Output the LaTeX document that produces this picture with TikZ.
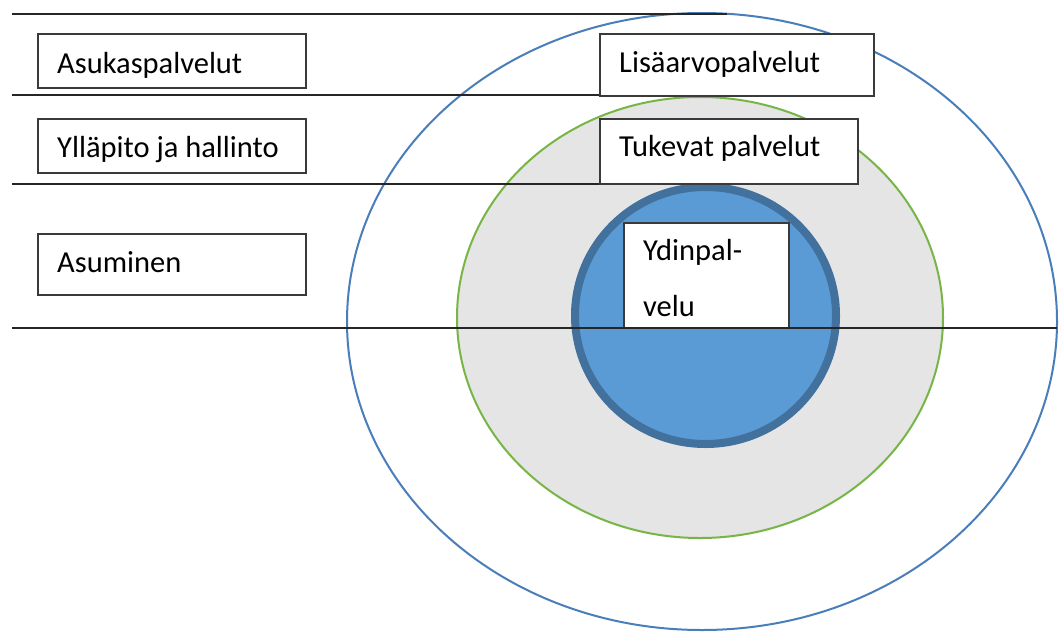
\documentclass[tikz,border=0pt]{standalone}
\usepackage{fontspec}
\setmainfont{Carlito}
\definecolor{outerblue}{HTML}{4A7EBB}
\definecolor{ringgreen}{HTML}{77B546}
\definecolor{ringgray}{HTML}{E5E5E5}
\definecolor{corefill}{HTML}{5B9BD5}
\definecolor{coreedge}{HTML}{41719C}
\definecolor{boxedge}{HTML}{3A3A3A}
\tikzset{
  boxnode/.style={draw=boxedge, line width=2pt, fill=white, rectangle, anchor=north west, inner sep=0pt},
  lbl/.style={anchor=base west, inner sep=0pt, font=\fontsize{30.5}{37}\selectfont, text=black},
  sepline/.style={line width=2.4pt, draw=black!85},
}
\begin{document}
\begin{tikzpicture}[x=1pt,y=-1pt]
\useasboundingbox[fill=white] (0,0) rectangle (1059,632);
% outer ellipse
\draw[outerblue, line width=2pt] (702,321.5) ellipse [x radius=355pt, y radius=308.5pt];
% green ring
\draw[ringgreen, fill=ringgray, line width=2pt] (700,317.5) ellipse [x radius=243pt, y radius=220.5pt];
% core
\draw[coreedge, fill=corefill, line width=8pt] (705.5,315.5) ellipse [x radius=130.5pt, y radius=128.5pt];
% separator lines
\coordinate (l1a) at (12,14);  \coordinate (l1b) at (727,14);
\coordinate (l2a) at (12,95);  \coordinate (l2b) at (600,95);
\coordinate (l3a) at (12,184); \coordinate (l3b) at (705,184);
\coordinate (l4a) at (12,328); \coordinate (l4b) at (1057,328);
\draw[sepline] (l1a) -- (l1b);
\draw[sepline] (l2a) -- (l2b);
\draw[sepline] (l3a) -- (l3b);
% boxes
\node[boxnode, minimum width=268pt, minimum height=54pt] (b1) at (37,33) {};
\node[boxnode, minimum width=268pt, minimum height=54pt] (b2) at (37,118) {};
\node[boxnode, minimum width=268pt, minimum height=61pt] (b3) at (37,233) {};
\node[boxnode, minimum width=274pt, minimum height=62pt] (b4) at (599,33) {};
\node[boxnode, minimum width=258pt, minimum height=65pt] (b5) at (599,118) {};
\node[boxnode, minimum width=165pt, minimum height=105pt] (b6) at (623,222) {};
\draw[sepline] (l4a) -- (l4b);
% labels
\node[lbl] (t1) at (57,73) {Asukaspalvelut};
\node[lbl] (t2) at (57,157) {Ylläpito ja hallinto};
\node[lbl] (t3) at (57,272) {Asuminen};
\node[lbl] (t4) at (619,72) {Lisäarvopalvelut};
\node[lbl] (t5) at (619,156) {Tukevat palvelut};
\node[lbl] (t6) at (643,260) {Ydinpal-};
\node[lbl] (t7) at (643,316) {velu};
\end{tikzpicture}
\end{document}
